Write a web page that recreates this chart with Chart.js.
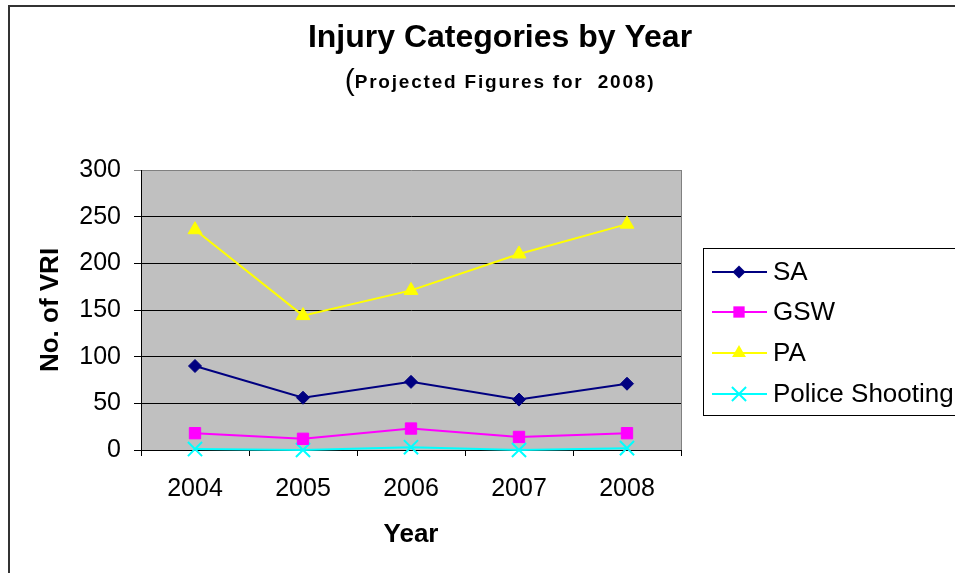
<!DOCTYPE html>
<html>
<head>
<meta charset="utf-8">
<script src="https://cdn.jsdelivr.net/npm/chart.js@4/dist/chart.umd.min.js"></script>
<style>
    html, body { margin: 0; padding: 0; background: #fff; }
    canvas { display: block; }
</style>
</head>
<body>
<canvas id="myChart" width="955" height="573"></canvas>
<script>
// chart data
var years = ['2004', '2005', '2006', '2007', '2008'];
var seriesNames = ['SA', 'GSW', 'PA', 'Police Shooting'];
var saValues = [90, 56, 73, 54, 71];
var gswValues = [18, 12, 23, 14, 18];
var paValues = [236, 144, 171, 210, 242];
var policeValues = [1, 0, 3, 0, 2];
var yTicks = [0, 50, 100, 150, 200, 250, 300];

var titleText = 'Injury Categories by Year';
var subtitleText = 'Projected Figures for  2008)';
var yTitle = 'No. of VRI';
var xTitle = 'Year';

var FONT = '"Liberation Sans", Arial, sans-serif';

function makeSet(name, values, color, style, radius) {
    return {
        label: name,
        data: values,
        borderColor: color,
        backgroundColor: color,
        pointBackgroundColor: color,
        pointBorderColor: color,
        pointStyle: style,
        pointRadius: radius,
        pointHoverRadius: radius,
        pointBorderWidth: style === 'crossRot' ? 2 : 1,
        borderWidth: 2,
        tension: 0,
        clip: false
    };
}

// gray plot background + right border + outer frame
var plotBackground = {
    id: 'plotBackground',
    beforeDraw: function (chart) {
        var c = chart.ctx, a = chart.chartArea;
        c.save();
        c.fillStyle = '#fff';
        c.fillRect(0, 0, chart.width, chart.height);
        c.fillStyle = '#C0C0C0';
        c.fillRect(a.left, a.top, a.right - a.left, a.bottom - a.top);
        c.restore();
    },
    afterDraw: function (chart) {
        var c = chart.ctx, a = chart.chartArea;
        c.save();
        c.strokeStyle = '#808080';
        c.lineWidth = 1;
        c.beginPath();
        c.moveTo(a.right + 0.5, a.top);
        c.lineTo(a.right + 0.5, a.bottom);
        c.stroke();
        // outer frame
        c.strokeStyle = '#333';
        c.lineWidth = 2;
        c.beginPath();
        c.moveTo(chart.width + 5, 6);
        c.lineTo(9, 6);
        c.lineTo(9, chart.height + 5);
        c.stroke();
        c.restore();
    }
};

// title and subtitle
var titles = {
    id: 'titles',
    afterDraw: function (chart) {
        var c = chart.ctx;
        var cx = 500;
        c.save();
        c.fillStyle = '#000';
        c.textAlign = 'center';
        c.textBaseline = 'alphabetic';
        c.font = 'bold 32px ' + FONT;
        c.fillText(titleText, cx, 47);

        c.textAlign = 'left';
        c.font = '30px ' + FONT;
        var wParen = c.measureText('(').width;
        c.font = 'bold 19px ' + FONT;
        c.letterSpacing = '1.8px';
        var wSub = c.measureText(subtitleText).width;
        var x0 = cx - (wParen + wSub) / 2;
        c.letterSpacing = '0px';
        c.font = '30px ' + FONT;
        c.fillText('(', x0, 90);
        c.font = 'bold 19px ' + FONT;
        c.letterSpacing = '1.8px';
        c.fillText(subtitleText, x0 + wParen, 88);
        c.restore();
    }
};

function drawMarker(c, style, x, y, r, color) {
    c.fillStyle = color;
    c.strokeStyle = color;
    c.beginPath();
    if (style === 'rectRot') {
        c.moveTo(x, y - r); c.lineTo(x + r, y); c.lineTo(x, y + r); c.lineTo(x - r, y);
        c.closePath(); c.fill();
    } else if (style === 'rect') {
        var s = r * Math.SQRT1_2;
        c.rect(x - s, y - s, 2 * s, 2 * s); c.fill();
    } else if (style === 'triangle') {
        var h = r * Math.sqrt(3) / 2;
        c.moveTo(x, y - r); c.lineTo(x + h, y + r / 2); c.lineTo(x - h, y + r / 2);
        c.closePath(); c.fill();
    } else if (style === 'crossRot') {
        var d = r * Math.SQRT1_2;
        c.lineWidth = 2;
        c.moveTo(x - d, y - d); c.lineTo(x + d, y + d);
        c.moveTo(x + d, y - d); c.lineTo(x - d, y + d);
        c.stroke();
    }
}

// boxed legend on the right
var boxLegend = {
    id: 'boxLegend',
    afterDraw: function (chart) {
        var c = chart.ctx;
        var rows = [272, 312, 353, 394];
        c.save();
        c.strokeStyle = '#000';
        c.lineWidth = 1;
        c.strokeRect(703.5, 248.5, 300, 167);
        c.font = '26px ' + FONT;
        c.textBaseline = 'middle';
        c.textAlign = 'left';
        chart.data.datasets.forEach(function (ds, i) {
            var y = rows[i];
            c.strokeStyle = ds.borderColor;
            c.lineWidth = 2;
            c.beginPath();
            c.moveTo(712, y);
            c.lineTo(767, y);
            c.stroke();
            drawMarker(c, ds.pointStyle, 739, y, ds.pointRadius, ds.borderColor);
            c.fillStyle = '#000';
            c.fillText(ds.label, 773, y + 1);
        });
        c.restore();
    }
};

var config = {
    type: 'line',
    data: {
        labels: years,
        datasets: [
            makeSet(seriesNames[0], saValues, '#000080', 'rectRot', 6.5),
            makeSet(seriesNames[1], gswValues, '#FF00FF', 'rect', 8),
            makeSet(seriesNames[2], paValues, '#FFFF00', 'triangle', 8),
            makeSet(seriesNames[3], policeValues, '#00FFFF', 'crossRot', 10)
        ]
    },
    options: {
        responsive: false,
        devicePixelRatio: 1,
        animation: false,
        layout: { padding: { top: 170, right: 274, left: 0, bottom: 0 } },
        plugins: {
            legend: { display: false },
            tooltip: { enabled: false },
            title: { display: false }
        },
        scales: {
            x: {
                offset: true,
                afterFit: function (scale) { scale.height = 123; },
                grid: {
                    offset: true,
                    drawOnChartArea: false,
                    drawTicks: true,
                    tickLength: 6,
                    color: '#000'
                },
                border: { color: '#000', width: 1 },
                ticks: {
                    color: '#000',
                    font: { family: FONT, size: 25 },
                    padding: 18,
                    maxRotation: 0,
                    autoSkip: false
                },
                title: {
                    display: true,
                    text: xTitle,
                    color: '#000',
                    font: { family: FONT, size: 26, weight: 'bold' },
                    padding: { top: 0, bottom: 23 }
                }
            },
            y: {
                min: yTicks[0],
                max: yTicks[yTicks.length - 1],
                afterFit: function (scale) { scale.width = 141; },
                afterBuildTicks: function (scale) {
                    scale.ticks = yTicks.map(function (v) { return { value: v }; });
                },
                grid: {
                    color: function (ctx) {
                        return ctx.tick && ctx.tick.value === 300 ? '#808080' : '#000';
                    },
                    lineWidth: 1,
                    drawTicks: true,
                    tickLength: 7
                },
                border: { color: '#000', width: 1 },
                ticks: {
                    color: '#000',
                    font: { family: FONT, size: 25 },
                    padding: 13
                },
                title: {
                    display: true,
                    text: yTitle,
                    color: '#000',
                    font: { family: FONT, size: 26, weight: 'bold' },
                    padding: { top: 35, bottom: 0 }
                }
            }
        }
    },
    plugins: [plotBackground, titles, boxLegend]
};

var myChart = new Chart(document.getElementById('myChart'), config);
</script>
</body>
</html>
